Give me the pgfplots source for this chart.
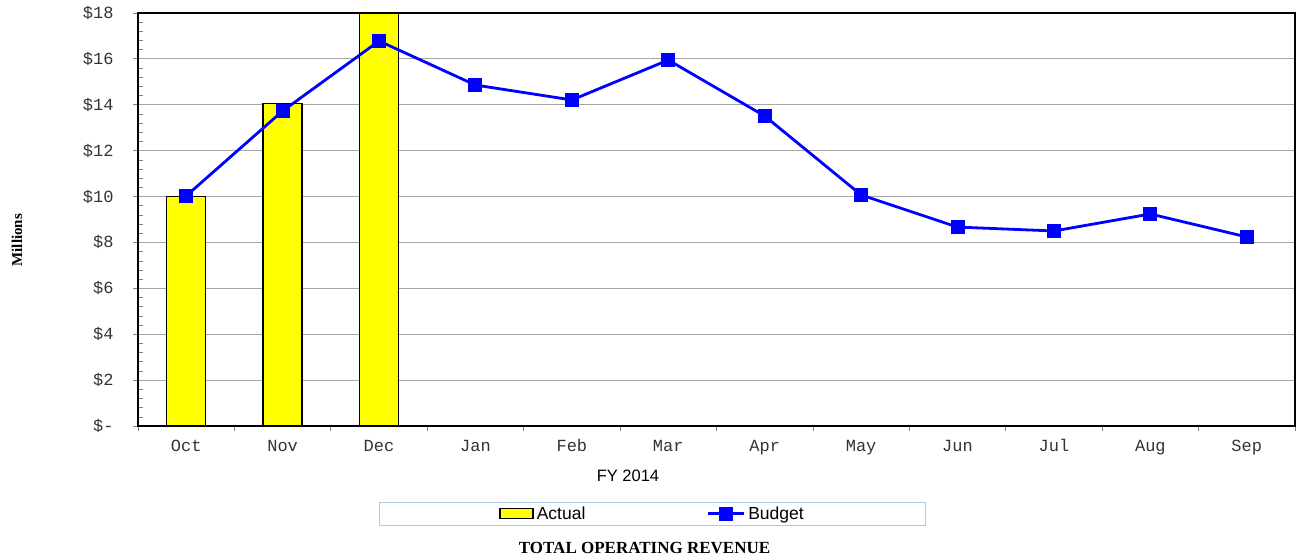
\documentclass[border=0pt]{standalone}
\usepackage{pgfplots}
\pgfplotsset{compat=1.18}
\usepackage{fontspec}
\setmainfont{Liberation Sans}
\setmonofont{Liberation Mono}
\newfontfamily\serifb{Liberation Serif}
\definecolor{barY}{HTML}{FFFF00}
\definecolor{lineB}{HTML}{0000FF}
\definecolor{legB}{HTML}{A9CCE8}
\pgfplotsset{
  actualleg/.style={legend image code/.code={\draw[##1] (0pt,-5pt) rectangle (33pt,5pt);}},
  budgetleg/.style={legend image code/.code={\draw[##1] (0pt,0pt) -- (36pt,0pt); \draw[##1] plot coordinates {(18pt,0pt)};}},
}
\begin{document}
\begin{tikzpicture}[x=1pt,y=1pt]
\path (0,0) rectangle (1296,556);
\begin{axis}[
  at={(138pt,130pt)}, anchor=south west,
  scale only axis, width=1157pt, height=413pt,
  xmin=-0.5, xmax=11.5, ymin=0, ymax=18,
  xtick={0,...,11},
  xticklabels={Oct,Nov,Dec,Jan,Feb,Mar,Apr,May,Jun,Jul,Aug,Sep},
  major x tick style={draw=none},
  minor xtick={-0.5,0.5,...,11.5},
  ytick={0,2,...,18},
  yticklabels={\$-,\$2,\$4,\$6,\$8,\$10,\$12,\$14,\$16,\$18},
  minor y tick num=4,
  tick pos=left,
  tick align=outside,
  major tick length=5pt, minor tick length=5pt,
  minor y tick style={xshift=5pt, line width=0.6pt, gray},
  minor x tick style={line width=0.8pt, gray},
  major y tick style={line width=0.8pt, gray},
  ymajorgrids, grid style={gray!70, line width=0.9pt},
  axis line style={black, line width=1.5pt},
  ticklabel style={font=\fontsize{17}{19}\selectfont\ttfamily, text=black!80},
  xticklabel style={text height=11pt, text depth=3pt, yshift=-6pt},
  yticklabel style={xshift=-16pt},
  xlabel={FY 2014},
  xlabel style={font=\fontsize{16.5}{18}\selectfont, at={(axis description cs:0.4235,-0.121)}, anchor=center},
  ylabel={Millions},
  ylabel style={font=\fontsize{15}{18}\selectfont\serifb\bfseries, at={(axis description cs:-0.1046,0.45)}, anchor=center},
  title={TOTAL OPERATING REVENUE},
  title style={font=\fontsize{17}{20}\selectfont\serifb\bfseries, at={(axis description cs:0.4378,-0.31)}, anchor=center},
  legend columns=2,
  legend style={at={(axis description cs:0.4447,-0.2119)}, anchor=center,
    draw=legB, line width=0.8pt, inner xsep=120pt, inner ysep=2.5pt,
    font=\fontsize{17.5}{19}\selectfont,
    /tikz/every even column/.append style={column sep=119pt},
    /tikz/every odd column/.append style={column sep=1pt}},
  clip=false,
]
\addplot[ybar, bar width=39pt, fill=barY, draw=black, line width=1.5pt, actualleg]
  coordinates {(0,10.0) (1,14.05) (2,18.0)};
\addlegendentry{Actual}
\addplot[lineB, line width=2.8pt, mark=square*, mark size=6.5pt, mark options={solid, fill=lineB, line width=0pt}, budgetleg]
  coordinates {(0,10.03) (1,13.73) (2,16.78) (3,14.86) (4,14.21) (5,15.95) (6,13.51) (7,10.07) (8,8.67) (9,8.50) (10,9.24) (11,8.24)};
\addlegendentry{Budget}
\end{axis}
\end{tikzpicture}
\end{document}
